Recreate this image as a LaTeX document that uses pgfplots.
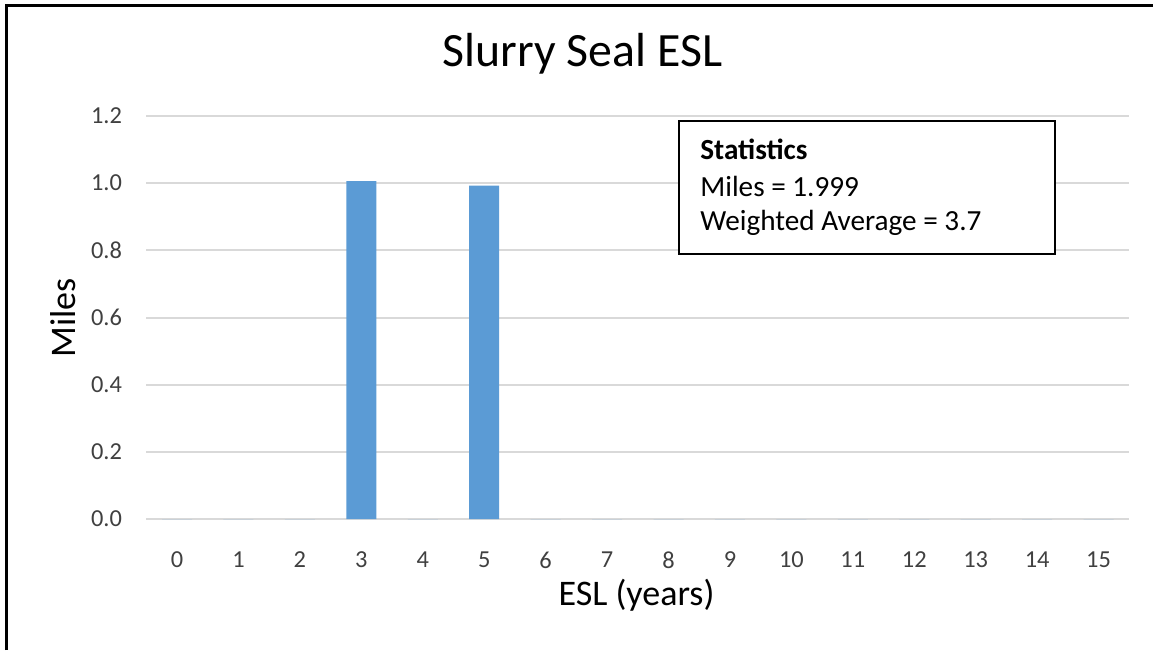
\documentclass[border=0pt]{standalone}
\usepackage{fontspec}
\setmainfont{Carlito}
\usepackage{pgfplots}
\pgfplotsset{compat=1.18}
\definecolor{barblue}{HTML}{5B9BD5}
\definecolor{gridgray}{HTML}{D9D9D9}
\definecolor{ticktext}{HTML}{404040}
\begin{document}
\begin{tikzpicture}[x=1pt,y=1pt]
\useasboundingbox (0,0) rectangle (576.5,325);
\draw[line width=1.5pt] (3,0) -- (3,322.5) -- (576.5,322.5);
\begin{axis}[
  at={(73.15pt,65.5pt)}, anchor=south west,
  scale only axis, width=491.5pt, height=201.5pt,
  xmin=-0.5, xmax=15.5, ymin=0, ymax=1.2,
  xtick={0,1,2,3,4,5,6,7,8,9,10,11,12,13,14,15},
  ytick={0,0.2,0.4,0.6,0.8,1.0,1.2},
  yticklabel style={/pgf/number format/.cd, fixed, fixed zerofill, precision=1, /tikz/.cd},
  /pgf/number format/assume math mode=true,
  axis line style={draw=none},
  tick style={draw=none},
  ymajorgrids,
  major grid style={draw=gridgray, line width=1pt},
  ticklabel style={font=\fontsize{12.2}{14}\selectfont, text=ticktext, inner sep=0pt},
  xticklabel style={anchor=north, yshift=-12pt},
  yticklabel style={anchor=east, xshift=-12pt},
  ybar, bar width=15pt, bar shift=0pt,
  clip=false,
]
\addplot[fill=barblue, draw=none] coordinates {
 (0,0) (1,0) (2,0) (3,1.006) (4,0) (5,0.993) (6,0) (7,0)
 (8,0) (9,0) (10,0) (11,0) (12,0) (13,0) (14,0) (15,0)
};
\end{axis}
\node[anchor=base, font=\fontsize{23.9}{28}\selectfont] at (291.25,291.5) {Slurry Seal ESL};
\node[anchor=base, font=\fontsize{18}{22}\selectfont] at (318.25,22.5) {ESL (years)};
\node[anchor=base, rotate=90, font=\fontsize{18}{22}\selectfont] at (37.5,166) {Miles};
\draw[line width=1pt, fill=white] (339.5,198) rectangle (527.5,264.5);
\node[anchor=base west, inner sep=0pt, font=\fontsize{14.6}{17}\selectfont\bfseries] at (350,245.5) {Statistics};
\node[anchor=base west, inner sep=0pt, font=\fontsize{14.6}{17}\selectfont] at (350,227) {Miles = 1.999};
\node[anchor=base west, inner sep=0pt, font=\fontsize{14.6}{17}\selectfont] at (350,210) {Weighted Average = 3.7};
\end{tikzpicture}
\end{document}
